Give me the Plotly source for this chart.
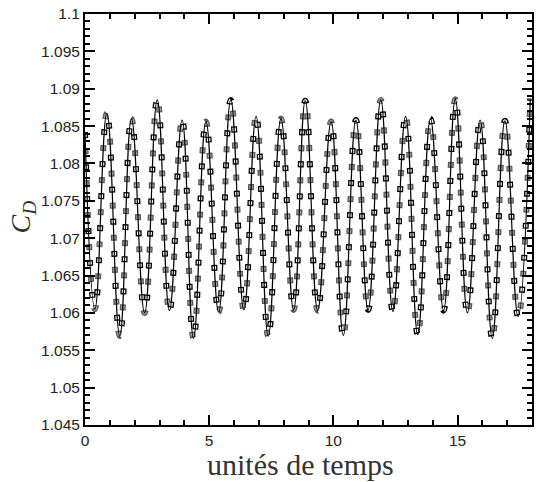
import plotly.graph_objects as go

# Extrema of the C_D signal (start point, then trough/peak alternation)
t_ext = [0.00, 0.40, 0.88, 1.40, 1.87, 2.40, 2.91, 3.40, 3.91, 4.37, 4.87,
         5.38, 5.87, 6.40, 6.89, 7.38, 7.89, 8.40, 8.87, 9.37, 9.91,
         10.40, 10.91, 11.40, 11.91, 12.40, 12.91, 13.40, 13.91, 14.44, 14.91,
         15.40, 15.91, 16.40, 16.91, 17.44, 17.93]
cd_ext = [1.0842, 1.0605, 1.0867, 1.0569, 1.0860, 1.0600, 1.0885, 1.0603, 1.0858, 1.0566, 1.0856,
          1.0601, 1.0885, 1.0604, 1.0863, 1.0569, 1.0860, 1.0604, 1.0884, 1.0603, 1.0856,
          1.0570, 1.0858, 1.0604, 1.0885, 1.0602, 1.0863, 1.0571, 1.0860, 1.0603, 1.0886,
          1.0600, 1.0858, 1.0566, 1.0857, 1.0595, 1.0887]

x_ticks = [0, 5, 10, 15]
y_ticks = [1.045, 1.05, 1.055, 1.06, 1.065, 1.07, 1.075, 1.08, 1.085, 1.09, 1.095, 1.1]
y_labels = ["1.045", "1.05", "1.055", "1.06", "1.065", "1.07", "1.075", "1.08",
            "1.085", "1.09", "1.095", "1.1"]

fig = go.Figure()

def curve(color, width, dash="solid"):
    fig.add_trace(go.Scatter(x=t_ext, y=cd_ext, mode="lines",
                             line=dict(color=color, width=width, dash=dash,
                                       shape="spline", smoothing=1.3),
                             hoverinfo="skip"))

# square symbols placed along the curve (Tecplot-like symbol skipping by distance)
curve("#000000", 6, "6px,26px")
curve("#5a5a5a", 6, "0px,16px,6px,10px")
curve("#ffffff", 3.4, "0px,1.3px,3.4px,27.3px")
curve("#a3a3a3", 3.4, "0px,17.3px,3.4px,11.3px")
# the solid line
curve("#000000", 1.2)

axis_common = dict(showline=True, linewidth=2, linecolor="black", mirror="allticks",
                   ticks="inside", tickwidth=2, tickcolor="black", ticklen=10,
                   showgrid=False, zeroline=False,
                   tickfont=dict(family="Liberation Sans, Arial, sans-serif", size=15.5, color="#222"))

fig.update_xaxes(range=[0, 18], tickvals=x_ticks, ticktext=[str(v) for v in x_ticks],
                 minor=dict(dtick=1, ticks="inside", ticklen=5, tickwidth=1.5, tickcolor="black"),
                 **axis_common)
fig.update_yaxes(range=[1.045, 1.1], tickvals=y_ticks, ticktext=y_labels,
                 minor=dict(dtick=0.001, ticks="inside", ticklen=5, tickwidth=1.5, tickcolor="black"),
                 **axis_common)

fig.update_layout(
    width=536, height=482,
    margin=dict(l=85, r=2, t=14, b=57),
    plot_bgcolor="white", paper_bgcolor="white",
    showlegend=False,
    annotations=[
        dict(text="unités de temps", xref="paper", yref="paper", x=0.483, y=-0.05,
             xanchor="center", yanchor="top", showarrow=False,
             font=dict(family="Liberation Serif, DejaVu Serif, serif", size=30, color="#333")),
        dict(text="<i>C</i><sub><i>D</i></sub>", xref="paper", yref="paper", x=-0.14, y=0.506,
             xanchor="center", yanchor="middle", textangle=-90, showarrow=False,
             font=dict(family="Liberation Serif, DejaVu Serif, serif", size=28, color="#333")),
    ],
)

fig.write_html("out.html")
